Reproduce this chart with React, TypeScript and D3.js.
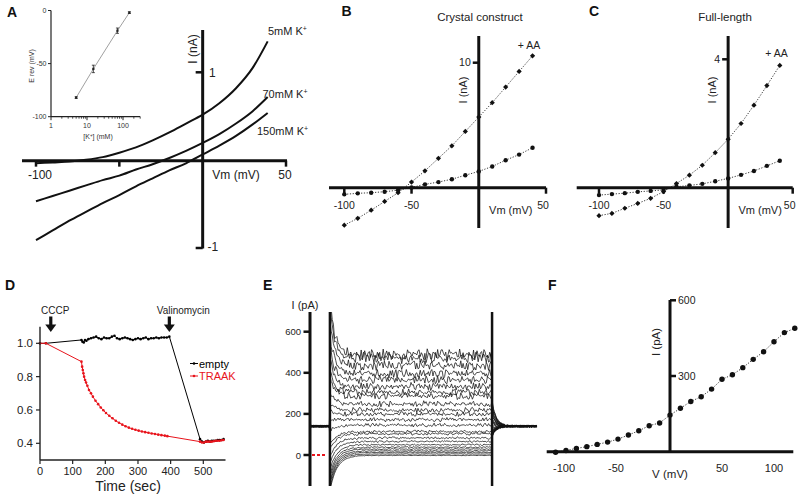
import React from "react";
import * as d3 from "d3";

const FONT = "'Liberation Sans', Arial, Helvetica, sans-serif";

// ---------- Panel A : I-V curves at different [K+] ----------
const aVoltage = [-100, -90, -80, -70, -60, -50, -40, -30, -20, -10, 0, 10, 20, 30, 39];
const aK5 = [-0.03, -0.02, -0.01, 0.01, 0.04, 0.09, 0.15, 0.23, 0.32, 0.42, 0.52, 0.65, 0.82, 1.05, 1.35];
const aK70 = [-0.46, -0.4, -0.34, -0.28, -0.22, -0.17, -0.1, -0.04, 0.03, 0.11, 0.2, 0.3, 0.42, 0.56, 0.72];
const aK150 = [-0.9, -0.79, -0.68, -0.58, -0.48, -0.39, -0.29, -0.2, -0.11, -0.03, 0.07, 0.17, 0.28, 0.41, 0.54];
const aCurveLabels = ["5mM K", "70mM K", "150mM K"];
const aXTicks = [-100, -50, 50];
const aYTicks = [1, -1];

// inset: reversal potential vs [K+]
const insetK = [5, 15, 70, 150];
const insetErev = [-82, -55, -19, -2];
const insetSem = [0.8, 3.5, 2.5, 0.8];
const insetXLabels = [1, 10, 100];
const insetYTicks = [0, -50, -100];

// ---------- Panels B & C ----------
const bcVoltage = [-100, -90, -80, -70, -60, -50, -40, -30, -20, -10, 0, 10, 20, 30, 40];
const bAA = [-3.0, -2.45, -1.8, -1.1, -0.4, 0.45, 1.35, 2.35, 3.35, 4.5, 5.65, 6.8, 8.05, 9.3, 10.55];
const bCtrl = [-0.53, -0.45, -0.4, -0.32, -0.2, 0.02, 0.27, 0.45, 0.68, 1.0, 1.3, 1.7, 2.2, 2.65, 3.2];
const cAA = [-0.87, -0.8, -0.64, -0.49, -0.33, -0.12, 0.13, 0.39, 0.7, 1.09, 1.51, 2.0, 2.57, 3.18, 3.81];
const cCtrl = [-0.23, -0.2, -0.17, -0.13, -0.1, -0.07, 0.03, 0.07, 0.12, 0.2, 0.29, 0.4, 0.52, 0.68, 0.84];
const bcXTicks = [-100, -50, 50];

// ---------- Panel D : flux assay ----------
const dEmptyT = [0, 18, 127, 130, 134, 138, 142, 148, 156, 164, 172, 180, 188, 196, 204, 212, 220, 228, 236, 244, 252, 260, 268, 276, 284, 292, 300, 308, 316, 324, 332, 340, 348, 356, 364, 372, 380, 388, 396, 490, 496, 502, 508, 514, 520, 526, 532, 538, 544, 550, 556, 562];
const dEmptyV = [1.0, 1.0, 1.02, 1.01, 1.005, 1.02, 1.015, 1.025, 1.03, 1.035, 1.04, 1.03, 1.025, 1.035, 1.03, 1.03, 1.04, 1.045, 1.03, 1.025, 1.03, 1.035, 1.03, 1.025, 1.02, 1.025, 1.03, 1.025, 1.03, 1.035, 1.025, 1.03, 1.03, 1.035, 1.03, 1.035, 1.035, 1.035, 1.04, 0.425, 0.41, 0.405, 0.41, 0.415, 0.41, 0.415, 0.415, 0.415, 0.42, 0.42, 0.42, 0.425];
const dTraakT = [0, 18, 127, 129, 131, 133, 135, 138, 141, 145, 150, 156, 162, 170, 178, 186, 194, 202, 212, 222, 232, 242, 252, 262, 272, 282, 292, 302, 312, 322, 332, 342, 352, 362, 372, 382, 390, 490, 496, 502, 508, 514, 520, 526, 532, 538, 544, 550, 556, 562];
const dTraakV = [1.0, 1.0, 0.89, 0.86, 0.84, 0.82, 0.8, 0.78, 0.765, 0.745, 0.72, 0.7, 0.68, 0.655, 0.635, 0.615, 0.598, 0.582, 0.565, 0.55, 0.535, 0.523, 0.512, 0.502, 0.494, 0.487, 0.481, 0.476, 0.471, 0.467, 0.463, 0.459, 0.456, 0.452, 0.449, 0.446, 0.443, 0.41, 0.405, 0.405, 0.41, 0.41, 0.41, 0.41, 0.412, 0.415, 0.415, 0.415, 0.418, 0.42];
const dXTicks = [0, 100, 200, 300, 400, 500];
const dYTicks = [0.4, 0.6, 0.8, 1.0];
const dArrowT = [33, 396];
const dArrowLabels = ["CCCP", "Valinomycin"];
const dLegend = ["empty", "TRAAK"];
const dColors = ["#000000", "#e8141c"];

// ---------- Panel F : steady-state I-V ----------
const fVoltage = [-110, -100, -90, -80, -70, -60, -50, -40, -30, -20, -10, 0, 10, 20, 30, 40, 50, 60, 70, 80, 90, 100, 110, 120];
const fCurrent = [-2, 5, 13, 20, 29, 38, 50, 66, 83, 103, 114, 145, 172, 199, 218, 248, 287, 305, 333, 366, 396, 436, 472, 489];
const fXTicks = [-100, -50, 50, 100];
const fYTicks = [300, 600];

// ---------- Panel E : current traces (levels = fCurrent) ----------
const eYTicks = [0, 200, 400, 600];
const eHolding = 140;
const eNoise = [0.3, -0.5, 0.8, -0.2, -0.9, 0.4, 0.1, -0.6, 0.7, -0.3, 0.9, -0.8, 0.2, 0.5, -0.4, -0.1, 0.6, -0.7, 0.3, -0.9, 0.8, 0.0, -0.5, 0.4, -0.2, 0.7, -0.6, 0.1, 0.9, -0.3, -0.8, 0.5, -0.1, 0.6, -0.4, 0.2, -0.7, 0.8, -0.5, 0.3, 0.0, -0.9, 0.7, -0.2, 0.4, -0.6, 0.9, -0.1, -0.4, 0.6, -0.8, 0.2, 0.5, -0.3, 0.1, -0.7, 0.8, -0.5, 0.3, -0.2, 0.7, -0.9, 0.4, 0.0, -0.6, 0.5, -0.3, 0.9, -0.1, -0.5, 0.2, 0.6, -0.8, 0.3, -0.4, 0.7, -0.2, 0.1, -0.7, 0.8, -0.6, 0.4, -0.1, 0.5, -0.9, 0.2, 0.6, -0.3, 0.0, -0.5, 0.9, -0.4, 0.3, -0.8, 0.7, -0.2, 0.1];

type P = [number, number];

function Diamond({ x, y, s }: { x: number; y: number; s: number }) {
  return <path d={`M${x},${y - s}L${x + s},${y}L${x},${y + s}L${x - s},${y}Z`} fill="#111" />;
}

function Arrow({ x, y0, y1 }: { x: number; y0: number; y1: number }) {
  const hy = y1 - 7.5;
  return (
    <g>
      <rect x={x - 1.6} y={y0} width={3.2} height={hy - y0 + 0.5} fill="#111" />
      <path d={`M${x - 5.5},${hy}L${x + 5.5},${hy}L${x},${y1}Z`} fill="#111" />
    </g>
  );
}

export default function App() {
  // ---------------- Panel A ----------------
  const ax = d3.scaleLinear().domain([-100, 50]).range([36, 286]);
  const ay = d3.scaleLinear().domain([-1, 1]).range([249, 72.3]);
  const aLine = d3.line<P>().x((d) => ax(d[0])).y((d) => ay(d[1])).curve(d3.curveMonotoneX);
  const aSeries = [aK5, aK70, aK150];
  const aLabelPos: P[] = [[268, 34.5], [262.5, 98], [257, 135]];
  const ax0 = ax(0);
  const ay0 = ay(0);

  const ix = d3.scaleLog().domain([1, 300]).range([51, 140.2]);
  const iy = d3.scaleLinear().domain([-100, 0]).range([116.7, 10.5]);
  const insetLine = d3.line<P>().x((d) => ix(d[0])).y((d) => iy(d[1]));
  const insetMinor: number[] = [];
  [1, 10, 100].forEach((dec) => {
    for (let m = 2; m <= 9; m++) if (dec * m <= 300) insetMinor.push(dec * m);
  });

  // ---------------- Panel B / C ----------------
  const bx = d3.scaleLinear().domain([-100, 50]).range([344.3, 546]);
  const by = d3.scaleLinear().domain([0, 10]).range([187.7, 62.7]);
  const cx = d3.scaleLinear().domain([-100, 50]).range([599, 792.7]);
  const cy = d3.scaleLinear().domain([0, 4]).range([187.7, 59.3]);
  const dotted = "1.2,1.6";

  const ivPanel = (
    sx: d3.ScaleLinear<number, number>,
    sy: d3.ScaleLinear<number, number>,
    aa: number[],
    ctrl: number[],
    xStart: number,
    yTick: number,
    title: string,
    titleX: number,
    aaX: number,
    aaY: number,
    key: string
  ) => {
    const line = d3.line<P>().x((d) => sx(d[0])).y((d) => sy(d[1]));
    const aaPts: P[] = bcVoltage.map((v, i) => [v, aa[i]]);
    const ctPts: P[] = bcVoltage.map((v, i) => [v, ctrl[i]]);
    const x0 = sx(0);
    const y0 = sy(0);
    return (
      <g key={key}>
        <text x={titleX} y={21} fontSize={11.5} textAnchor="middle" fill="#222">{title}</text>
        <path d={line(aaPts) || ""} fill="none" stroke="#222" strokeWidth={0.9} strokeDasharray={dotted} />
        <path d={line(ctPts) || ""} fill="none" stroke="#222" strokeWidth={0.9} strokeDasharray={dotted} />
        <line x1={xStart} x2={sx(50)} y1={y0} y2={y0} stroke="#111" strokeWidth={3} />
        <line x1={x0} x2={x0} y1={36} y2={228} stroke="#111" strokeWidth={3} />
        {bcXTicks.map((t) => (
          <line key={t} x1={sx(t)} x2={sx(t)} y1={y0} y2={y0 + 6} stroke="#111" strokeWidth={2.5} />
        ))}
        <line x1={x0 - 6} x2={x0} y1={sy(yTick)} y2={sy(yTick)} stroke="#111" strokeWidth={2.5} />
        <text x={x0 - 8} y={sy(yTick) + 3.5} fontSize={10.5} textAnchor="end" fill="#222">{yTick}</text>
        <text x={sx(-100)} y={209} fontSize={10.5} textAnchor="middle" fill="#222">-100</text>
        <text x={sx(-50)} y={209} fontSize={10.5} textAnchor="middle" fill="#222">-50</text>
        <text x={sx(50) - 3} y={209} fontSize={10.5} textAnchor="middle" fill="#222">50</text>
        <text x={x0 + 32} y={214} fontSize={11} textAnchor="middle" fill="#222">Vm (mV)</text>
        <text transform={`translate(${x0 - 12},90) rotate(-90)`} fontSize={11} textAnchor="middle" fill="#222">I (nA)</text>
        <text x={aaX} y={aaY} fontSize={10.5} textAnchor="middle" fill="#222">+ AA</text>
        {aaPts.map((d, i) => (
          <Diamond key={"d" + i} x={sx(d[0])} y={sy(d[1])} s={2.6} />
        ))}
        {ctPts.map((d, i) => (
          <circle key={"c" + i} cx={sx(d[0])} cy={sy(d[1])} r={2.2} fill="#111" />
        ))}
      </g>
    );
  };

  // ---------------- Panel D ----------------
  const dx = d3.scaleLinear().domain([0, 500]).range([40, 203.3]);
  const dy = d3.scaleLinear().domain([0.4, 1.0]).range([443.3, 343.3]);
  const dLine = d3.line<P>().x((d) => dx(d[0])).y((d) => dy(d[1]));
  const dSeries: P[][] = [
    dEmptyT.map((t, i) => [t, dEmptyV[i]] as P),
    dTraakT.map((t, i) => [t, dTraakV[i]] as P),
  ];

  // ---------------- Panel E ----------------
  const ex = d3.scaleLinear().domain([-43, 447]).range([310, 537]);
  const ey = d3.scaleLinear().domain([0, 600]).range([455, 331.7]);
  const onset = d3.scaleLinear().domain([0, 490]).range([-170, 780]);
  const eLine = d3.line<P>().x((d) => ex(d[0])).y((d) => ey(d[1]));
  const N = eNoise.length;
  const nz = (i: number) => eNoise[((i % N) + N) % N];
  const mix = (i: number, k: number) => 0.65 * nz(i * 3 + 11 * k) + 0.45 * nz(i * 7 + 29 * k + 5);
  const eTraces: P[][] = fCurrent.map((L, k) => {
    const pts: P[] = [];
    let i = 0;
    for (let t = -43; t < 0; t += 1.5) pts.push([t, eHolding + 6 * mix(i++, k)]);
    const start = onset(L);
    const tau = L < eHolding ? 15 : 10;
    const amp = 1.5 + 0.06 * Math.max(L, 0);
    for (let t = 0; t <= 350; t += 2.5) {
      const env = Math.exp(-t / tau);
      pts.push([t, L + (start - L) * env + amp * mix(i++, k)]);
    }
    const tailStart = eHolding + (L - eHolding) * 0.35;
    for (let t = 350; t <= 447; t += 1.5) {
      pts.push([t, eHolding + (tailStart - eHolding) * Math.exp(-(t - 350) / 9) + 6 * mix(i++, k + 3)]);
    }
    return pts;
  });

  // ---------------- Panel F ----------------
  const fx = d3.scaleLinear().domain([-100, 100]).range([566, 774]);
  const fy = d3.scaleLinear().domain([0, 600]).range([451.7, 300.3]);
  const fLine = d3.line<P>().x((d) => fx(d[0])).y((d) => fy(d[1]));
  const fPts: P[] = fVoltage.map((v, i) => [v, fCurrent[i]]);

  return (
    <svg width={800} height={497} style={{ position: "absolute", left: 0, top: 0, background: "#fff" }} fontFamily={FONT}>
      <defs>
        <clipPath id="eclip">
          <rect x={311} y={312} width={230} height={174} />
        </clipPath>
      </defs>

      {/* Panel letters */}
      <g fontWeight="bold" fontSize={14} fill="#111">
        <text x={7} y={17}>A</text>
        <text x={341.5} y={16}>B</text>
        <text x={589} y={16}>C</text>
        <text x={5} y={290}>D</text>
        <text x={263} y={290}>E</text>
        <text x={548} y={290}>F</text>
      </g>

      {/* ---------- Panel A ---------- */}
      <g>
        {aSeries.map((s, k) => (
          <path key={k} d={aLine(aVoltage.map((v, i) => [v, s[i]] as P)) || ""} fill="none" stroke="#111" strokeWidth={2} />
        ))}
        <line x1={22} x2={287} y1={ay0} y2={ay0} stroke="#111" strokeWidth={3} />
        <line x1={ax0} x2={ax0} y1={30} y2={248.5} stroke="#111" strokeWidth={3} />
        {aXTicks.map((t) => (
          <line key={t} x1={ax(t)} x2={ax(t)} y1={ay0} y2={ay0 + 6} stroke="#111" strokeWidth={2.5} />
        ))}
        {aYTicks.map((t) => (
          <line key={t} x1={ax0 - 7} x2={ax0} y1={ay(t) - (t < 0 ? 1 : 0)} y2={ay(t) - (t < 0 ? 1 : 0)} stroke="#111" strokeWidth={2.5} />
        ))}
        <text x={40} y={179} fontSize={12} textAnchor="middle" fill="#222">-100</text>
        <text x={285} y={179} fontSize={12} textAnchor="middle" fill="#222">50</text>
        <text x={236} y={179} fontSize={12} textAnchor="middle" fill="#222">Vm (mV)</text>
        <text x={209} y={77} fontSize={12} fill="#222">1</text>
        <text x={207.5} y={251} fontSize={12} fill="#222">-1</text>
        <text transform={`translate(197,49) rotate(-90)`} fontSize={12} textAnchor="middle" fill="#222">I (nA)</text>
        {aCurveLabels.map((l, k) => (
          <text key={l} x={aLabelPos[k][0]} y={aLabelPos[k][1]} fontSize={11} fill="#222">
            {l}
            <tspan dy={-4} fontSize={7}>+</tspan>
          </text>
        ))}

        {/* inset */}
        <path d={insetLine(insetK.map((k, i) => [k, insetErev[i]] as P)) || ""} fill="none" stroke="#888" strokeWidth={0.8} />
        {insetK.map((k, i) => (
          <g key={k}>
            <line x1={ix(k)} x2={ix(k)} y1={iy(insetErev[i] - insetSem[i])} y2={iy(insetErev[i] + insetSem[i])} stroke="#222" strokeWidth={0.8} />
            <line x1={ix(k) - 1.5} x2={ix(k) + 1.5} y1={iy(insetErev[i] - insetSem[i])} y2={iy(insetErev[i] - insetSem[i])} stroke="#222" strokeWidth={0.8} />
            <line x1={ix(k) - 1.5} x2={ix(k) + 1.5} y1={iy(insetErev[i] + insetSem[i])} y2={iy(insetErev[i] + insetSem[i])} stroke="#222" strokeWidth={0.8} />
            <rect x={ix(k) - 1.1} y={iy(insetErev[i]) - 1.1} width={2.2} height={2.2} fill="#222" />
          </g>
        ))}
        <line x1={ix(1)} x2={ix(1)} y1={iy(0)} y2={iy(-100)} stroke="#222" strokeWidth={1.2} />
        <line x1={ix(1)} x2={ix(300)} y1={iy(-100)} y2={iy(-100)} stroke="#222" strokeWidth={1.2} />
        {insetYTicks.map((t) => (
          <g key={t}>
            <line x1={ix(1) - 3} x2={ix(1)} y1={iy(t)} y2={iy(t)} stroke="#222" strokeWidth={1} />
            <text x={ix(1) - 4.5} y={iy(t) + 2.5} fontSize={7} textAnchor="end" fill="#333">{t}</text>
          </g>
        ))}
        {insetXLabels.map((t) => (
          <g key={t}>
            <line x1={ix(t)} x2={ix(t)} y1={iy(-100)} y2={iy(-100) + 3.5} stroke="#222" strokeWidth={1} />
            <text x={ix(t)} y={iy(-100) + 11.5} fontSize={7} textAnchor="middle" fill="#333">{t}</text>
          </g>
        ))}
        {insetMinor.map((t) => (
          <line key={t} x1={ix(t)} x2={ix(t)} y1={iy(-100)} y2={iy(-100) + 2} stroke="#222" strokeWidth={0.8} />
        ))}
        <text x={98} y={139} fontSize={7} textAnchor="middle" fill="#333">
          [K<tspan dy={-2.5} fontSize={4.5}>+</tspan><tspan dy={2.5}>] (mM)</tspan>
        </text>
        <text transform={`translate(33.5,66) rotate(-90)`} fontSize={7} textAnchor="middle" fill="#333">E rev (mV)</text>
      </g>

      {/* ---------- Panels B & C ---------- */}
      {ivPanel(bx, by, bAA, bCtrl, 329, 10, "Crystal construct", 480, 529, 49, "B")}
      {ivPanel(cx, cy, cAA, cCtrl, 576.7, 4, "Full-length", 725, 776.5, 57, "C")}

      {/* ---------- Panel D ---------- */}
      <g>
        {dArrowT.map((t, i) => (
          <g key={t}>
            <text x={dx(t) + (i === 0 ? 4.5 : 14)} y={313.5} fontSize={10} textAnchor="middle" fill="#222">{dArrowLabels[i]}</text>
            <Arrow x={dx(t)} y0={316.5} y1={332} />
          </g>
        ))}
        {dSeries.map((s, k) => (
          <g key={k}>
            <path d={dLine(s) || ""} fill="none" stroke={dColors[k]} strokeWidth={1} />
            {s.map((d, i) => (
              <circle key={i} cx={dx(d[0])} cy={dy(d[1])} r={1.3} fill={dColors[k]} />
            ))}
          </g>
        ))}
        <line x1={40} x2={40} y1={dy(1.1)} y2={dy(0.3)} stroke="#222" strokeWidth={1.4} />
        <line x1={40} x2={225.5} y1={dy(0.3)} y2={dy(0.3)} stroke="#222" strokeWidth={1.4} />
        {dYTicks.map((t) => (
          <g key={t}>
            <line x1={36} x2={40} y1={dy(t)} y2={dy(t)} stroke="#222" strokeWidth={1.2} />
            <text x={33} y={dy(t) + 4} fontSize={11.5} textAnchor="end" fill="#222">{t.toFixed(1)}</text>
          </g>
        ))}
        {dXTicks.map((t) => (
          <g key={t}>
            <line x1={dx(t)} x2={dx(t)} y1={dy(0.3)} y2={dy(0.3) + 4} stroke="#222" strokeWidth={1.2} />
            <text x={dx(t)} y={dy(0.3) + 15} fontSize={11} textAnchor="middle" fill="#222">{t}</text>
          </g>
        ))}
        <text x={128} y={491} fontSize={14} textAnchor="middle" fill="#222">Time (sec)</text>
        {dLegend.map((l, k) => (
          <g key={l}>
            <line x1={190} x2={198} y1={363.5 + 12.5 * k} y2={363.5 + 12.5 * k} stroke={dColors[k]} strokeWidth={1} />
            <circle cx={194} cy={363.5 + 12.5 * k} r={1.3} fill={dColors[k]} />
            <text x={199} y={367.5 + 12.5 * k} fontSize={11} fill={dColors[k]}>{l}</text>
          </g>
        ))}
      </g>

      {/* ---------- Panel E ---------- */}
      <g>
        <text x={305} y={309} fontSize={11} textAnchor="middle" fill="#222">I (pA)</text>
        <g clipPath="url(#eclip)">
          {eTraces.map((tr, k) => (
            <path key={k} d={eLine(tr) || ""} fill="none" stroke="#111" strokeWidth={0.75} />
          ))}
        </g>
        <line x1={ex(0)} x2={ex(0)} y1={312} y2={486} stroke="#111" strokeWidth={2.5} />
        <line x1={ex(350)} x2={ex(350)} y1={312} y2={486} stroke="#111" strokeWidth={2.5} />
        <line x1={312} x2={326.5} y1={ey(0)} y2={ey(0)} stroke="#e8141c" strokeWidth={2} strokeDasharray="3,2" />
        <line x1={310} x2={310} y1={312} y2={486} stroke="#111" strokeWidth={3} />
        {eYTicks.map((t) => (
          <g key={t}>
            <line x1={303.5} x2={310} y1={ey(t)} y2={ey(t)} stroke="#111" strokeWidth={2.5} />
            <text x={301} y={ey(t) + 3.5} fontSize={9.5} textAnchor="end" fill="#222">{t}</text>
          </g>
        ))}
      </g>

      {/* ---------- Panel F ---------- */}
      <g>
        <path d={fLine(fPts) || ""} fill="none" stroke="#222" strokeWidth={0.9} strokeDasharray={dotted} />
        <line x1={546.7} x2={793.3} y1={fy(0)} y2={fy(0)} stroke="#111" strokeWidth={3} />
        <line x1={fx(0)} x2={fx(0)} y1={300} y2={fy(0)} stroke="#111" strokeWidth={3} />
        {fYTicks.map((t) => (
          <g key={t}>
            <line x1={fx(0)} x2={fx(0) + 6} y1={fy(t)} y2={fy(t)} stroke="#111" strokeWidth={2.5} />
            <text x={fx(0) + 8} y={fy(t) + 3.5} fontSize={10.5} fill="#222">{t}</text>
          </g>
        ))}
        {fXTicks.map((t) => (
          <text key={t} x={fx(t) + (t < 0 ? -2 : 0)} y={471.5} fontSize={11} textAnchor="middle" fill="#222">{t}</text>
        ))}
        <text x={fx(0)} y={478} fontSize={11.5} textAnchor="middle" fill="#222">V (mV)</text>
        <text transform={`translate(${fx(0) - 10},342) rotate(-90)`} fontSize={11.5} textAnchor="middle" fill="#222">I (pA)</text>
        {fPts.map((d, i) => (
          <circle key={i} cx={fx(d[0])} cy={fy(d[1])} r={2.7} fill="#111" />
        ))}
      </g>
    </svg>
  );
}
